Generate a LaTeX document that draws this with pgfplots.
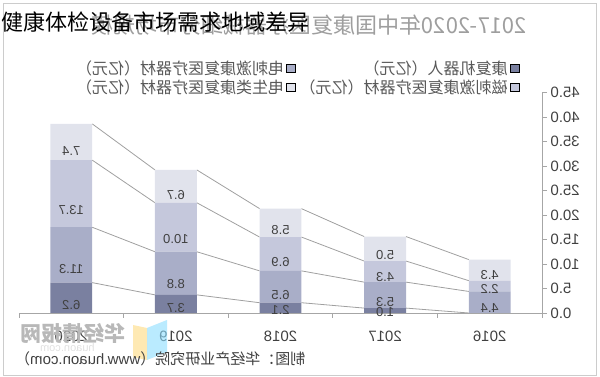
\documentclass[border=0pt]{standalone}
\usepackage{pgfplots}
\pgfplotsset{compat=1.18}
\usepackage{graphicx}
\usepackage{fontspec}
\setmainfont{Liberation Sans}
\newfontfamily\cjk{Noto Sans CJK SC}
\definecolor{cA}{HTML}{7A80A0}
\definecolor{cB}{HTML}{A9AEC8}
\definecolor{cC}{HTML}{C5C8DC}
\definecolor{cD}{HTML}{E1E3EC}
\definecolor{txt}{HTML}{404040}
\definecolor{axc}{HTML}{A6A6A6}
\definecolor{slc}{HTML}{A0A0A0}
\pgfplotsset{myax/.style={scale only axis, width=523pt, height=220.5pt,
  at={(19pt,64pt)}, anchor=south west, xmin=-0.5, xmax=4.5, ymin=0, ymax=45}}
\begin{document}
\begin{tikzpicture}[x=1pt,y=1pt]
\useasboundingbox (0,0) rectangle (600,377);
\draw[black!20, line width=0.8pt] (3,2) rectangle (596,374);
% faded original title (mirrored)
\node[anchor=east, inner sep=0pt, text=black!38, font=\cjk\fontsize{22}{24}\selectfont] at (527,352)
  {\reflectbox{2017-2020年中国康复医疗器械细分市场规模}};
% series lines
\begin{axis}[myax, hide axis]
\addplot[slc, line width=0.8pt, unbounded coords=jump] coordinates {(0.2,6.2)(0.8,3.7)(1,nan)(1.2,3.7)(1.8,2.1)(2,nan)(2.2,2.1)(2.8,1.0)(3,nan)(3.2,1.0)(3.8,0)};
\addplot[slc, line width=0.8pt, unbounded coords=jump] coordinates {(0.2,17.5)(0.8,12.5)(1,nan)(1.2,12.5)(1.8,8.6)(2,nan)(2.2,8.6)(2.8,6.3)(3,nan)(3.2,6.3)(3.8,4.4)};
\addplot[slc, line width=0.8pt, unbounded coords=jump] coordinates {(0.2,31.2)(0.8,22.5)(1,nan)(1.2,22.5)(1.8,15.5)(2,nan)(2.2,15.5)(2.8,10.6)(3,nan)(3.2,10.6)(3.8,6.6)};
\addplot[slc, line width=0.8pt, unbounded coords=jump] coordinates {(0.2,38.6)(0.8,29.2)(1,nan)(1.2,29.2)(1.8,21.3)(2,nan)(2.2,21.3)(2.8,15.6)(3,nan)(3.2,15.6)(3.8,10.9)};
\end{axis}
% bars
\begin{axis}[myax,
  ybar stacked, bar width=0.4,
  axis x line*=bottom, axis y line*=right,
  axis line style={axc, line width=0.8pt},
  xtick={0,...,4},
  xticklabels={\reflectbox{2020},\reflectbox{2019},\reflectbox{2018},\reflectbox{2017},\reflectbox{2016}},
  major x tick style={draw=none},
  minor xtick={-0.5,0.5,...,4.5},
  minor x tick style={axc, line width=0.8pt},
  ytick={0,5,...,45},
  y tick style={axc, line width=0.8pt},
  tick align=outside, major tick length=5pt, minor tick length=5pt,
  /pgf/number format/assume math mode=true,
  yticklabel={\reflectbox{\pgfmathprintnumber[fixed,fixed zerofill,precision=1]{\tick}}},
  ticklabel style={font=\fontsize{15}{17}\selectfont, text=txt},
  xticklabel style={yshift=-9pt},
  visualization depends on={rawy \as \rawyval},
  nodes near coords={\ifdim\rawyval pt=0pt\else\reflectbox{\pgfmathprintnumber[fixed,fixed zerofill,precision=1]{\rawyval}}\fi},
  every node near coord/.append style={anchor=center, yshift={-1.225*\rawyval}, font=\fontsize{13}{15}\selectfont, text=txt},
  legend style={at={(0.962,1.165)}, anchor=north east, draw=none, fill=none,
    font=\cjk\fontsize{16}{18}\selectfont, text=black!65,
    /tikz/every even column/.append style={column sep=2pt}, row sep=0pt},
  legend columns=2, legend plot pos=right, legend cell align=right,
  legend image code/.code={\fill[#1] (0pt,-4pt) rectangle (9pt,4pt);},
  legend entries={\reflectbox{电刺激康复医疗器材（亿元）},\reflectbox{康复机器人（亿元）},\reflectbox{电生类康复医疗器材（亿元）},\reflectbox{磁刺激康复医疗器材（亿元）}},
]
\addlegendimage{fill=cB}
\addlegendimage{fill=cA}
\addlegendimage{fill=cD}
\addlegendimage{fill=cC}
\addplot[fill=cA, draw=none] coordinates {(0,6.2)(1,3.7)(2,2.1)(3,1.0)(4,0)};
\addplot[fill=cB, draw=none] coordinates {(0,11.3)(1,8.8)(2,6.5)(3,5.3)(4,4.4)};
\addplot[fill=cC, draw=none] coordinates {(0,13.7)(1,10.0)(2,6.9)(3,4.3)(4,2.2)};
\addplot[fill=cD, draw=none] coordinates {(0,7.4)(1,6.7)(2,5.8)(3,5.0)(4,4.3)};
\end{axis}
% watermark and logo
\fill[yellow!45!orange!40, opacity=0.7] (133,52) -- (147,49) -- (147,17) -- (133,20) -- cycle;
\fill[blue!30!cyan!45, opacity=0.6] (147,49) -- (167,57) -- (167,25) -- (147,17) -- cycle;
\node[anchor=west, inner sep=0pt, text=black!28, font=\cjk\bfseries\fontsize{21}{23}\selectfont] at (20,43) {\reflectbox{华经情报网}};
\node[anchor=west, inner sep=0pt, text=black!12, font=\fontsize{11}{13}\selectfont] at (40,29) {\reflectbox{huaon.com}};
% source
\node[anchor=west, inner sep=0pt, text=black!75, font=\fontsize{15}{17}\selectfont] at (15,18)
  {\reflectbox{{\cjk 制图：华经产业研究院（}www.huaon.com{\cjk ）}}};
% overlay title
\node[anchor=west, inner sep=0pt, font=\cjk\fontsize{22}{24}\selectfont] at (1,355) {健康体检设备市场需求地域差异};
\end{tikzpicture}
\end{document}
